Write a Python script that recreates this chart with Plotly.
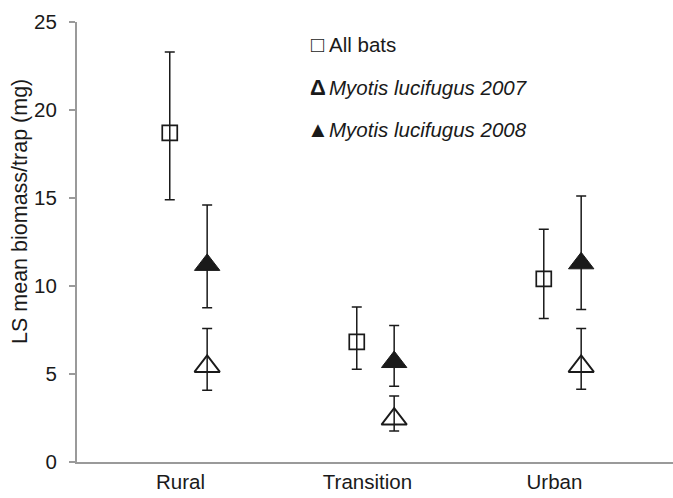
import plotly.graph_objects as go

# Sites along the urbanisation gradient
sites = ["Rural", "Transition", "Urban"]

# LS mean insect biomass per trap (mg) with lower / upper limits
all_bats = [18.7, 6.82, 10.4]
all_bats_lo = [14.9, 5.27, 8.15]
all_bats_hi = [23.3, 8.81, 13.22]

myo_2007 = [5.43, 2.44, 5.43]
myo_2007_lo = [4.07, 1.76, 4.13]
myo_2007_hi = [7.58, 3.75, 7.58]

myo_2008 = [11.2, 5.68, 11.29]
myo_2008_lo = [8.77, 4.30, 8.66]
myo_2008_hi = [14.6, 7.75, 15.11]

y_ticks = [0, 5, 10, 15, 20, 25]

site_pos = list(range(1, len(sites) + 1))
shift = 0.1  # horizontal separation of the two marker columns per site

FONT = "Liberation Sans, Arial, Helvetica, sans-serif"
AXIS_GREY = "#9a9a9a"
INK = "#1a1a1a"
TXT = 20.5


def err(vals, lo, hi):
    return dict(
        type="data",
        symmetric=False,
        array=[h - v for v, h in zip(vals, hi)],
        arrayminus=[v - l for v, l in zip(vals, lo)],
        color=INK,
        thickness=1.5,
        width=5,
    )


fig = go.Figure()

fig.add_trace(go.Scatter(
    x=[p - shift for p in site_pos], y=all_bats, mode="markers",
    name="All bats",
    marker=dict(symbol="square-open", size=15, color=INK, line=dict(width=1.7, color=INK)),
    error_y=err(all_bats, all_bats_lo, all_bats_hi),
))
fig.add_trace(go.Scatter(
    x=[p + shift for p in site_pos], y=myo_2008, mode="markers",
    name="Myotis lucifugus 2008",
    marker=dict(symbol="triangle-up", size=22, color=INK, line=dict(width=1, color=INK)),
    error_y=err(myo_2008, myo_2008_lo, myo_2008_hi),
))
fig.add_trace(go.Scatter(
    x=[p + shift for p in site_pos], y=myo_2007, mode="markers",
    name="Myotis lucifugus 2007",
    marker=dict(symbol="triangle-up-open", size=22, color=INK, line=dict(width=1.9, color=INK)),
    error_y=err(myo_2007, myo_2007_lo, myo_2007_hi),
))

# Legend drawn as text lines: a symbol glyph followed by the series label
legend_rows = [
    ("\u25a1", "All bats", 0.949),
    ("<b>\u0394</b>", "<i>Myotis lucifugus 2007</i>", 0.851),
    ("\u25b2", "<i>Myotis lucifugus 2008</i>", 0.756),
]
annotations = []
for glyph, label, yy in legend_rows:
    annotations.append(dict(
        x=0.404, y=yy, xref="paper", yref="paper", xanchor="center", yanchor="middle",
        text=glyph, showarrow=False, font=dict(family=FONT, size=22, color=INK)))
    annotations.append(dict(
        x=0.419, y=yy, xref="paper", yref="paper", xanchor="left", yanchor="middle",
        text=label, showarrow=False, font=dict(family=FONT, size=TXT, color=INK)))

annotations.append(dict(
    x=-0.096, y=0.57, xref="paper", yref="paper", xanchor="center", yanchor="middle",
    text="LS mean biomass/trap (mg)", textangle=-90, showarrow=False,
    font=dict(family=FONT, size=21.5, color=INK),
))

fig.update_layout(
    width=673, height=498,
    margin=dict(l=77, r=0, t=22, b=36),
    paper_bgcolor="white", plot_bgcolor="white",
    showlegend=False,
    font=dict(family=FONT, size=TXT, color=INK),
    annotations=annotations,
    xaxis=dict(
        range=[0.404, 3.591],
        tickmode="array", tickvals=site_pos, ticktext=sites,
        ticks="", showgrid=False, zeroline=False,
        showline=True, linecolor=AXIS_GREY, linewidth=2,
        ticklabelshift=-8,
        tickfont=dict(family=FONT, size=TXT, color=INK),
    ),
    yaxis=dict(
        range=[0, 25],
        tickmode="array", tickvals=y_ticks,
        ticks="outside", ticklen=6, tickwidth=1.5, tickcolor=AXIS_GREY,
        showgrid=False, zeroline=False,
        showline=True, linecolor=AXIS_GREY, linewidth=2,
        tickfont=dict(family=FONT, size=TXT, color=INK),
        ticklabelstandoff=8,
    ),
)

fig.write_html("out.html")
